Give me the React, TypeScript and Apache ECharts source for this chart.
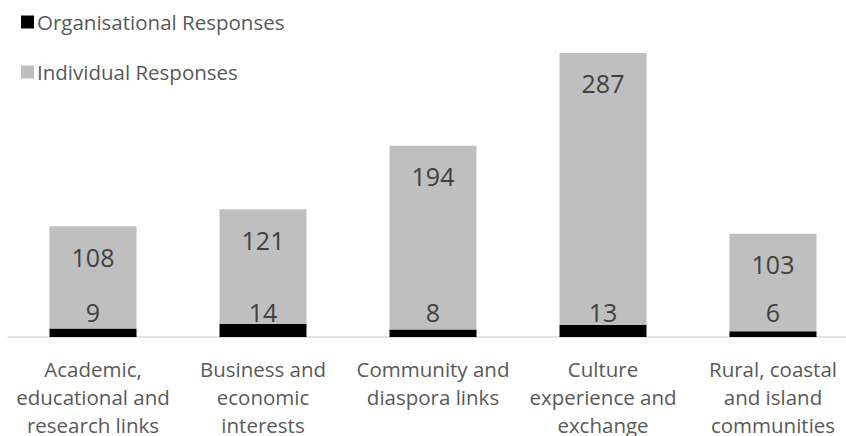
import React, { useEffect, useRef } from "react";
import * as echarts from "echarts";

const categories = [
  "Academic,\neducational and\nresearch links",
  "Business and\neconomic\ninterests",
  "Community and\ndiaspora links",
  "Culture\nexperience and\nexchange",
  "Rural, coastal\nand island\ncommunities",
];
const organisational = [9, 14, 8, 13, 6];
const individual = [108, 121, 194, 287, 103];

const FONT = "'Open Sans', sans-serif";

export default function App() {
  const ref = useRef<HTMLDivElement>(null);
  useEffect(() => {
    if (!ref.current) return;
    const chart = echarts.init(ref.current, null, { renderer: "svg", width: 846, height: 436 });
    chart.setOption({
      animation: false,
      backgroundColor: "#ffffff",
      legend: {
        orient: "vertical",
        left: 16,
        top: 5,
        padding: 5,
        itemWidth: 13,
        itemHeight: 13,
        itemGap: 26,
        icon: "rect",
        textStyle: { fontFamily: FONT, fontSize: 20.5, color: "#595959", lineHeight: 24, padding: [0, 0, 0, -2] },
        data: ["Organisational Responses", "Individual Responses"],
      },
      grid: { left: 8, width: 850, top: 15, bottom: 99, containLabel: false, outerBoundsMode: "none" },
      xAxis: {
        type: "category",
        data: categories,
        axisLine: { lineStyle: { color: "#d9d9d9", width: 1.5 } },
        axisTick: { show: false },
        axisLabel: {
          fontFamily: FONT,
          fontSize: 20.5,
          color: "#595959",
          lineHeight: 28,
          margin: 18,
          interval: 0,
        },
      },
      yAxis: {
        type: "value",
        min: 0,
        max: 340,
        show: false,
        splitLine: { show: false },
      },
      series: [
        {
          name: "Organisational Responses",
          type: "bar",
          stack: "total",
          barWidth: 87,
          data: organisational,
          itemStyle: { color: "#000000" },
          label: {
            show: true,
            position: "insideBottom",
            distance: 13,
            fontFamily: FONT,
            fontSize: 25,
            color: "#404040",
          },
        },
        {
          name: "Individual Responses",
          type: "bar",
          stack: "total",
          barWidth: 87,
          data: individual,
          itemStyle: { color: "#bfbfbf" },
          label: {
            show: true,
            position: "insideTop",
            distance: 18,
            fontFamily: FONT,
            fontSize: 25,
            color: "#404040",
          },
        },
      ],
    });
    return () => chart.dispose();
  }, []);
  return <div ref={ref} style={{ width: 846, height: 436, position: "absolute", left: 0, top: 0 }} />;
}
